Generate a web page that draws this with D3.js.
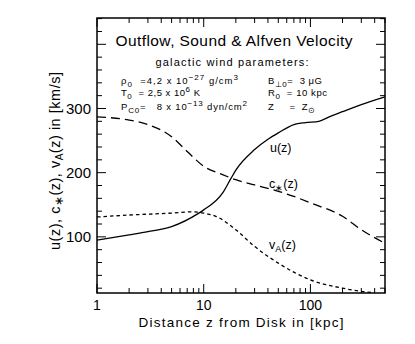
<!DOCTYPE html>
<html><head><meta charset="utf-8">
<script src="https://cdn.jsdelivr.net/npm/d3@7"></script>
<style>
body{margin:0;background:#fff;}
text{font-family:"Liberation Sans",Arial,sans-serif;fill:#000;white-space:pre;}
</style></head>
<body><svg id="c" width="415" height="344"></svg>
<script>
const zU = [1,2,3,5,9,10,15,18,20,30,40,50,70,90,120,150,200,300,500];
const uVals = [95,103,108,116,137,142,168,191,204,236,252,262,275,278,280,287,295,306,318];
const zC = [1,2,3,5,7,10,15,20,30,50,70,100,200,300,500];
const cVals = [287,282,275,256,233,210,197,189,181,171,163,153,132,111,90];
const zV = [1,2,5,8,10,13,20,30,50,100,200,300,400];
const vVals = [131,134,137,139,137,132,111,85,59,33,20,15,13];
const xTickLabels = [1,10,100];
const yTickLabels = [100,200,300];

const svg = d3.select("#c");
const L=97,R=385,T=18,B=293;
const x = d3.scaleLog().domain([1,500]).range([L,R]);
const y = d3.scaleLinear().domain([12.5,441]).range([B,T]);

svg.append("rect").attr("x",L).attr("y",T).attr("width",R-L).attr("height",B-T)
  .attr("fill","none").attr("stroke","#000").attr("stroke-width",1.5);

const xMinor = [];
[1,10,100].forEach(d=>{for(let k=2;k<=9;k++){const v=d*k; if(v<=500) xMinor.push(v);}});
const tickG = svg.append("g").attr("stroke","#000").attr("stroke-width",1);
xTickLabels.forEach(v=>{
  tickG.append("line").attr("x1",x(v)).attr("x2",x(v)).attr("y1",B).attr("y2",B-9);
  tickG.append("line").attr("x1",x(v)).attr("x2",x(v)).attr("y1",T).attr("y2",T+9);
});
xMinor.forEach(v=>{
  tickG.append("line").attr("x1",x(v)).attr("x2",x(v)).attr("y1",B).attr("y2",B-5);
  tickG.append("line").attr("x1",x(v)).attr("x2",x(v)).attr("y1",T).attr("y2",T+5);
});
d3.range(20,441,20).forEach(v=>{
  const len = (v%100===0)?9:5;
  tickG.append("line").attr("x1",L).attr("x2",L+len).attr("y1",y(v)).attr("y2",y(v));
  tickG.append("line").attr("x1",R).attr("x2",R-len).attr("y1",y(v)).attr("y2",y(v));
});

xTickLabels.forEach(v=>{
  svg.append("text").attr("x",x(v)).attr("y",310).attr("text-anchor","middle")
    .attr("font-size",14).text(v);
});
yTickLabels.forEach(v=>{
  svg.append("text").attr("x",91).attr("y",y(v)+5.5).attr("text-anchor","end")
    .attr("font-size",15).text(v);
});

svg.append("text").attr("x",241).attr("y",327).attr("text-anchor","middle")
  .attr("font-size",13.5).attr("textLength",205).attr("lengthAdjust","spacing")
  .text("Distance z from Disk in [kpc]");
const yl = svg.append("text").attr("transform","translate(60,161) rotate(-90)")
  .attr("text-anchor","middle").attr("font-size",14.5)
  .attr("textLength",178).attr("lengthAdjust","spacing");
yl.append("tspan").text("u(z), c");
yl.append("tspan").attr("dy",3).attr("font-size",12).text("\u2217");
yl.append("tspan").attr("dy",-3).text("(z), v");
yl.append("tspan").attr("dy",3).attr("font-size",10).text("A");
yl.append("tspan").attr("dy",-3).text("(z) in [km/s]");

const line = d3.line().x(d=>x(d[0])).y(d=>y(d[1])).curve(d3.curveMonotoneX);
const plot = svg.append("g").attr("fill","none").attr("stroke","#000").attr("stroke-width",1.3);
plot.append("path").attr("d",line(zU.map((z,i)=>[z,uVals[i]])));
plot.append("path").attr("d",line(zC.map((z,i)=>[z,cVals[i]]))).attr("stroke-dasharray","9,5");
plot.append("path").attr("d",line(zV.map((z,i)=>[z,vVals[i]]))).attr("stroke-dasharray","3.5,3");

function lab(xp,yp,main,sub,rest){
  const t=svg.append("text").attr("x",xp).attr("y",yp).attr("font-size",12.5);
  t.append("tspan").text(main);
  if(sub){t.append("tspan").attr("dy",3).attr("font-size",9).text(sub);
  t.append("tspan").attr("dy",-3).text(rest);}
}
lab(270,152,"u(z)");
lab(269,188,"c","\u2217","(z)");
lab(269,249,"v","A","(z)");

svg.append("text").attr("x",234).attr("y",46).attr("text-anchor","middle")
  .attr("font-size",15.5).attr("textLength",237).attr("lengthAdjust","spacing")
  .text("Outflow, Sound & Alfven Velocity");
svg.append("text").attr("x",232).attr("y",66).attr("text-anchor","middle")
  .attr("font-size",11).attr("textLength",153).attr("lengthAdjust","spacing")
  .text("galactic wind parameters:");

function param(xp,yp,len,parts){
  const t=svg.append("text").attr("x",xp).attr("y",yp).attr("font-size",9.5)
    .attr("textLength",len).attr("lengthAdjust","spacing");
  let cur=0;
  parts.forEach(p=>{
    const off = p.s==="sub"?2.5:(p.s==="sup"?-4:0);
    const ts=t.append("tspan").attr("dy",off-cur).text(p.t);
    if(p.s) ts.attr("font-size",8);
    cur=off;
  });
}
param(121,84,117,[{t:"\u03c1"},{t:"0",s:"sub"},{t:"  =4,2 x 10"},{t:"\u221227",s:"sup"},{t:" g/cm"},{t:"3",s:"sup"}]);
param(121,96,79,[{t:"T"},{t:"0",s:"sub"},{t:"  = 2,5 x 10"},{t:"6",s:"sup"},{t:" K"}]);
param(121,110,126,[{t:"P"},{t:"C0",s:"sub"},{t:"=   8 x 10"},{t:"\u221213",s:"sup"},{t:" dyn/cm"},{t:"2",s:"sup"}]);
param(268,84,54,[{t:"B"},{t:"\u22a50",s:"sub"},{t:"=  3 \u03bcG"}]);
param(268,96,59,[{t:"R"},{t:"0",s:"sub"},{t:"  = 10 kpc"}]);
param(268,110,47,[{t:"Z     =  Z"},{t:"\u2299",s:"sub"}]);
</script></body></html>
